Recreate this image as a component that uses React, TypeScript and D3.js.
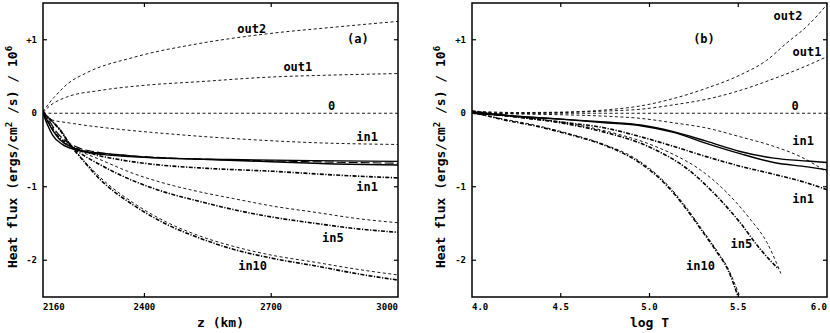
import React, { useEffect, useRef } from 'react';
import * as d3 from 'd3';

// heat flux / 1e6, panel (a) vs height z (km)
const aOut2 = [[2160, 0.02], [2175, 0.14], [2190, 0.24], [2216, 0.39], [2263, 0.55], [2374, 0.76], [2531, 0.95], [2689, 1.08], [2847, 1.17], [3000, 1.25]];
const aOut1 = [[2160, 0.01], [2176, 0.1], [2216, 0.22], [2295, 0.31], [2400, 0.38], [2531, 0.43], [2689, 0.49], [2847, 0.52], [3000, 0.54]];
const aZero = [[2160, 0], [3000, 0]];
const aIn1Up = [[2160, 0], [2170, -0.07], [2232, -0.14], [2311, -0.2], [2437, -0.27], [2626, -0.35], [2800, -0.4], [3000, -0.425]];
const aSolid1 = [[2160, 0.02], [2172, -0.12], [2185, -0.25], [2200, -0.36], [2228, -0.46], [2260, -0.52], [2311, -0.55], [2413, -0.6], [2600, -0.63], [2800, -0.645], [3000, -0.655]];
const aSolid2 = [[2160, 0], [2170, -0.15], [2183, -0.3], [2205, -0.42], [2240, -0.5], [2300, -0.56], [2400, -0.6], [2550, -0.63], [2700, -0.66], [2850, -0.69], [3000, -0.705]];
const aLong = [[2160, 0.04], [2175, -0.1], [2190, -0.24], [2210, -0.36], [2240, -0.46], [2300, -0.54], [2400, -0.59], [2600, -0.635], [2800, -0.66], [3000, -0.68]];
const aIn1Low = [[2160, 0], [2175, -0.14], [2192, -0.29], [2220, -0.42], [2270, -0.54], [2340, -0.63], [2413, -0.69], [2550, -0.75], [2705, -0.79], [2850, -0.84], [3000, -0.88]];
const aIn5Dash = [[2160, 0.03], [2180, -0.1], [2200, -0.22], [2228, -0.45], [2250, -0.52], [2295, -0.63], [2374, -0.82], [2452, -0.96], [2531, -1.07], [2610, -1.16], [2700, -1.26], [2807, -1.35], [2900, -1.43], [3000, -1.49]];
const aIn5Dot = [[2160, 0.01], [2180, -0.1], [2200, -0.22], [2228, -0.46], [2250, -0.55], [2295, -0.7], [2374, -0.92], [2452, -1.08], [2531, -1.2], [2610, -1.31], [2700, -1.41], [2807, -1.5], [2900, -1.57], [3000, -1.62]];
const aIn10Dash = [[2160, 0.02], [2180, -0.1], [2200, -0.22], [2228, -0.45], [2250, -0.6], [2295, -0.87], [2374, -1.22], [2452, -1.48], [2531, -1.67], [2610, -1.81], [2700, -1.93], [2807, -2.03], [2900, -2.12], [3000, -2.2]];
const aIn10Dot = [[2160, 0], [2180, -0.1], [2200, -0.23], [2228, -0.46], [2250, -0.61], [2295, -0.9], [2374, -1.25], [2452, -1.51], [2531, -1.7], [2610, -1.85], [2700, -1.97], [2807, -2.08], [2900, -2.18], [3000, -2.27]];

// panel (b) vs log T
const bOut2 = [[4, 0.03], [4.25, 0.01], [4.5, 0.015], [4.75, 0.045], [4.95, 0.1], [5.135, 0.2], [5.32, 0.34], [5.51, 0.52], [5.66, 0.72], [5.77, 0.95], [5.89, 1.19], [6.0, 1.48]];
const bOut1 = [[4, 0.02], [4.25, 0.0], [4.5, 0.01], [4.75, 0.03], [4.95, 0.055], [5.15, 0.12], [5.32, 0.19], [5.51, 0.31], [5.7, 0.47], [5.85, 0.61], [6.0, 0.77]];
const bZero = [[4, 0], [6, 0]];
const bIn1Up = [[4, 0.01], [4.25, -0.01], [4.5, -0.02], [4.75, -0.04], [4.95, -0.07], [5.135, -0.13], [5.32, -0.2], [5.51, -0.32], [5.7, -0.45], [5.85, -0.59], [6.0, -0.8]];
const bSolid1 = [[4, 0.02], [4.25, -0.04], [4.5, -0.08], [4.75, -0.12], [4.95, -0.16], [5.135, -0.25], [5.32, -0.38], [5.51, -0.52], [5.7, -0.61], [5.89, -0.65], [6.0, -0.67]];
const bSolid2 = [[4, 0], [4.25, -0.04], [4.5, -0.08], [4.75, -0.13], [4.95, -0.17], [5.135, -0.26], [5.32, -0.41], [5.51, -0.55], [5.7, -0.67], [5.89, -0.73], [6.0, -0.77]];
const bIn1Low = [[4, 0.03], [4.25, -0.05], [4.5, -0.12], [4.75, -0.2], [4.95, -0.32], [5.135, -0.45], [5.32, -0.59], [5.51, -0.72], [5.7, -0.83], [5.89, -0.95], [6.0, -1.04]];
const bIn5Dash = [[4, 0], [4.25, -0.05], [4.5, -0.12], [4.75, -0.24], [5.0, -0.42], [5.135, -0.56], [5.286, -0.77], [5.436, -1.08], [5.567, -1.44], [5.662, -1.76], [5.74, -2.18]];
const bIn5Dot = [[4, 0.01], [4.25, -0.05], [4.5, -0.13], [4.75, -0.26], [5.0, -0.46], [5.22, -0.77], [5.38, -1.13], [5.511, -1.49], [5.624, -1.85], [5.727, -2.12]];
const bIn10Dot = [[4, 0.02], [4.18, -0.09], [4.37, -0.18], [4.55, -0.29], [4.74, -0.43], [4.93, -0.65], [5.0, -0.77], [5.1, -0.99], [5.21, -1.31], [5.29, -1.58], [5.38, -1.89], [5.44, -2.12], [5.5, -2.5]];
const bIn10Dash = [[4, 0], [4.18, -0.08], [4.37, -0.17], [4.55, -0.28], [4.74, -0.42], [4.93, -0.63], [5.0, -0.75], [5.1, -0.97], [5.21, -1.29], [5.29, -1.56], [5.38, -1.87], [5.44, -2.1], [5.51, -2.5]];

const yTicks = [1, 0, -1, -2];
const yTickLabels = ['+1', '0', '-1', '-2'];
const aTicks = [2160, 2400, 2700, 3000];
const bTicks = [4.0, 4.5, 5.0, 5.5, 6.0];

const aLabels = [
  { t: 'out2', x: 2654, v: 1.15 }, { t: '(a)', x: 2905, v: 1.01 }, { t: 'out1', x: 2763, v: 0.63 },
  { t: '0', x: 2843, v: 0.1 }, { t: 'in1', x: 2927, v: -0.32 }, { t: 'in1', x: 2927, v: -1.0 },
  { t: 'in5', x: 2846, v: -1.7 }, { t: 'in10', x: 2656, v: -2.08 },
];
const bLabels = [
  { t: 'out2', x: 5.78, v: 1.32 }, { t: 'out1', x: 5.887, v: 0.83 }, { t: '(b)', x: 5.307, v: 1.01 },
  { t: '0', x: 5.82, v: 0.1 }, { t: 'in1', x: 5.865, v: -0.38 }, { t: 'in1', x: 5.865, v: -1.17 },
  { t: 'in5', x: 5.518, v: -1.78 }, { t: 'in10', x: 5.287, v: -2.08 },
];

const styles = {
  dash: { w: 0.9, d: '3,2.5' },
  dashdot: { w: 1.6, d: '4,1.5,1.2,1.5' },
  solid: { w: 1.4, d: null },
  longdash: { w: 1.1, d: '9,3' },
};

const panels = [
  {
    key: 'a', x0: 43, x1: 398, domain: [2160, 3000], ticks: aTicks, fmt: d3.format('d'), title: 'z (km)', yTitleX: 17,
    labels: aLabels,
    series: [
      [aOut2, 'dash'], [aOut1, 'dash'], [aZero, 'dash'], [aIn1Up, 'dash'], [aSolid1, 'solid'], [aSolid2, 'solid'],
      [aLong, 'longdash'], [aIn1Low, 'dashdot'], [aIn5Dash, 'dash'], [aIn5Dot, 'dashdot'], [aIn10Dash, 'dash'], [aIn10Dot, 'dashdot'],
    ],
  },
  {
    key: 'b', x0: 472, x1: 827, domain: [4, 6], ticks: bTicks, fmt: d3.format('.1f'), title: 'log T', yTitleX: 445,
    labels: bLabels,
    series: [
      [bOut2, 'dash'], [bOut1, 'dash'], [bZero, 'dash'], [bIn1Up, 'dash'], [bSolid1, 'solid'], [bSolid2, 'solid'],
      [bIn1Low, 'dashdot'], [bIn5Dash, 'dash'], [bIn5Dot, 'dashdot'], [bIn10Dash, 'dash'], [bIn10Dot, 'dashdot'],
    ],
  },
];

const FONT = '"DejaVu Sans Mono", monospace';

export default function App() {
  const ref = useRef<SVGSVGElement>(null);

  useEffect(() => {
    const svg = d3.select(ref.current);
    svg.selectAll('*').remove();
    const top = 3, bottom = 297;
    const y = d3.scaleLinear().domain([-2.5, 1.5]).range([bottom, top]);

    panels.forEach(p => {
      const x = d3.scaleLinear().domain(p.domain).range([p.x0, p.x1]);
      const g = svg.append('g');

      g.append('clipPath').attr('id', 'clip_' + p.key)
        .append('rect').attr('x', p.x0).attr('y', top).attr('width', p.x1 - p.x0).attr('height', bottom - top);

      const line = d3.line<number[]>().x(d => x(d[0])).y(d => y(d[1])).curve(d3.curveMonotoneX);
      g.append('g').attr('clip-path', `url(#clip_${p.key})`)
        .selectAll('path').data(p.series).join('path')
        .attr('d', d => line(d[0] as number[][]))
        .attr('fill', 'none').attr('stroke', '#000')
        .attr('stroke-width', d => styles[d[1] as string].w)
        .attr('stroke-dasharray', d => styles[d[1] as string].d);

      // frame
      g.append('rect').attr('x', p.x0).attr('y', top).attr('width', p.x1 - p.x0).attr('height', bottom - top)
        .attr('fill', 'none').attr('stroke', '#000').attr('stroke-width', 1.5);

      // inward ticks
      const inner = p.ticks.slice(1, -1);
      g.selectAll('.xt_b').data(inner).join('line').attr('class', 'xt_b')
        .attr('x1', d => x(d)).attr('x2', d => x(d)).attr('y1', bottom).attr('y2', bottom - 4)
        .attr('stroke', '#000').attr('stroke-width', 1.2);
      g.selectAll('.xt_t').data(inner).join('line').attr('class', 'xt_t')
        .attr('x1', d => x(d)).attr('x2', d => x(d)).attr('y1', top).attr('y2', top + 4)
        .attr('stroke', '#000').attr('stroke-width', 1.2);
      g.selectAll('.yt').data(yTicks.filter(d => d !== 0)).join('g').attr('class', 'yt')
        .each(function (d) {
          const s = d3.select(this);
          s.append('line').attr('x1', p.x0).attr('x2', p.x0 + 4).attr('y1', y(d)).attr('y2', y(d)).attr('stroke', '#000').attr('stroke-width', 1.2);
          s.append('line').attr('x1', p.x1).attr('x2', p.x1 - 4).attr('y1', y(d)).attr('y2', y(d)).attr('stroke', '#000').attr('stroke-width', 1.2);
        });

      // tick labels
      g.selectAll('.xl').data(p.ticks).join('text').attr('class', 'xl')
        .attr('x', d => x(d)).attr('y', 310)
        .attr('text-anchor', (d, i) => (i === 0 ? 'start' : i === p.ticks.length - 1 ? 'end' : 'middle'))
        .attr('font-family', FONT).attr('font-size', 9).attr('font-weight', 'bold')
        .text(d => p.fmt(d));
      g.selectAll('.yl').data(yTicks).join('text').attr('class', 'yl')
        .attr('x', p.x0 - 6).attr('y', d => y(d)).attr('dy', '0.35em').attr('text-anchor', 'end')
        .attr('font-family', FONT).attr('font-size', 9).attr('font-weight', 'bold')
        .text((d, i) => yTickLabels[i]);

      // axis titles
      g.append('text').attr('x', (p.x0 + p.x1) / 2).attr('y', 327).attr('text-anchor', 'middle')
        .attr('font-family', FONT).attr('font-size', 13).attr('font-weight', 'bold').text(p.title);
      const yt = g.append('text').attr('transform', `translate(${p.yTitleX},157) rotate(-90)`).attr('text-anchor', 'middle')
        .attr('font-family', FONT).attr('font-size', 13).attr('font-weight', 'bold');
      yt.append('tspan').text('Heat flux (ergs/cm');
      yt.append('tspan').attr('dy', -5).attr('font-size', 9).text('2');
      yt.append('tspan').attr('dy', 5).text(' /s) / 10');
      yt.append('tspan').attr('dy', -5).attr('font-size', 9).text('6');

      // curve labels
      g.selectAll('.cl').data(p.labels).join('text').attr('class', 'cl')
        .attr('x', d => x(d.x)).attr('y', d => y(d.v)).attr('dy', '0.35em').attr('text-anchor', 'middle')
        .attr('font-family', FONT).attr('font-size', 12).attr('font-weight', 'bold')
        .text(d => d.t);
    });
  }, []);

  return (
    <svg ref={ref} width={830} height={333} style={{ position: 'absolute', left: 0, top: 0, background: '#fff' }} />
  );
}
